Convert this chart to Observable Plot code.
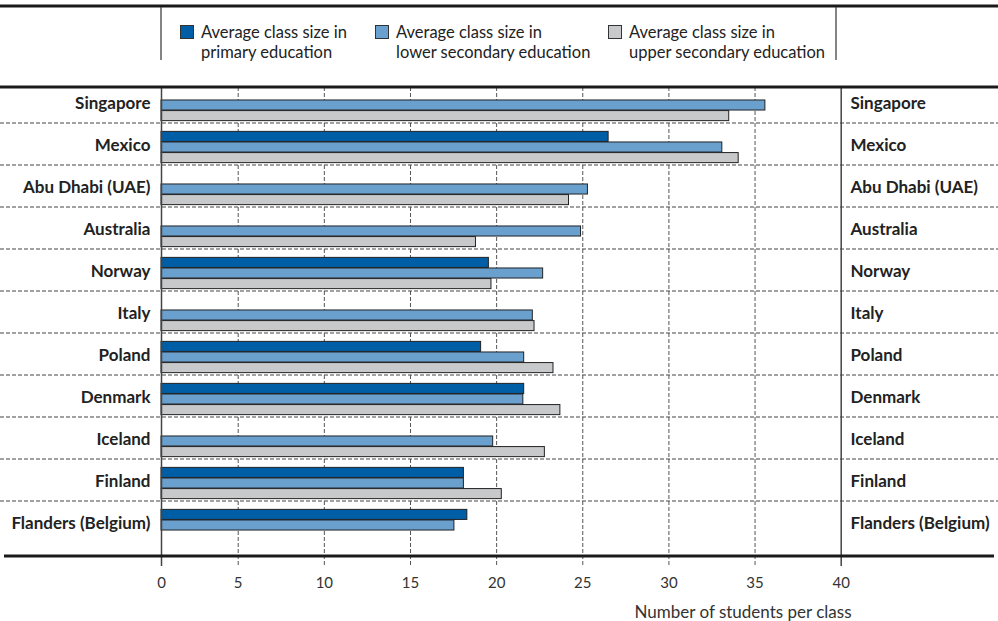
<!DOCTYPE html>
<html>
<head>
<meta charset="utf-8">
<script src="https://cdn.jsdelivr.net/npm/d3@7"></script>
<script src="https://cdn.jsdelivr.net/npm/@observablehq/plot@0.6"></script>
<style>
  body { margin: 0; background: #fff; }
  svg { display: block; }
</style>
</head>
<body>
<div id="chart"></div>
<script>
// ---- data ----
const countries = ["Singapore", "Mexico", "Abu Dhabi (UAE)", "Australia", "Norway", "Italy",
  "Poland", "Denmark", "Iceland", "Finland", "Flanders (Belgium)"];
const primary        = [null, 26.5, null, null, 19.55, null, 19.1, 21.6, null, 18.1, 18.3];
const lowerSecondary = [35.6, 33.1, 25.3, 24.9, 22.7, 22.1, 21.6, 21.55, 19.8, 18.1, 17.55];
const upperSecondary = [33.5, 34.05, 24.2, 18.8, 19.7, 22.2, 23.3, 23.7, 22.8, 20.3, null];
const seriesLabels = [
  ["Average class size in", "primary education"],
  ["Average class size in", "lower secondary education"],
  ["Average class size in", "upper secondary education"]
];
const seriesColors = ["#005ea6", "#69a0cd", "#c8c9cb"];
const xTicks = [0, 5, 10, 15, 20, 25, 30, 35, 40];
const gridTicks = [5, 10, 15, 20, 25, 30, 35];
const axisEnds = [0, 40];
const xTitle = "Number of students per class";

// ---- tables ----
const seriesValues = [primary, lowerSecondary, upperSecondary];
const tables = seriesValues.map(vals =>
  countries.map((c, i) => ({country: c, value: vals[i]})).filter(d => d.value != null));

const W = 998, H = 621;
const bandH = (H - 81 - 72) / countries.length;
const slot = 10.6;
const off = (bandH - 3 * slot) / 2;

const barMarks = tables.map((t, k) => Plot.barX(t, {
  x1: 0, x2: "value", y: "country",
  fill: seriesColors[k], stroke: "#222", strokeWidth: 1,
  insetTop: off + k * slot,
  insetBottom: bandH - (off + (k + 1) * slot)
}));

const plot = Plot.plot({
  width: W, height: H,
  marginTop: 81, marginBottom: 72, marginLeft: 161, marginRight: 157,
  style: {fontFamily: "Lato, 'Open Sans', sans-serif", background: "#fff"},
  x: {type: "linear", domain: [0, 5, 40], range: [161, 237.7, 840.7]},
  y: {domain: countries, padding: 0},
  marks: [
    Plot.ruleX(gridTicks, {stroke: "#555", strokeDasharray: "4,2", strokeWidth: 1, insetTop: 6, insetBottom: -17}),
    ...barMarks,
    Plot.ruleX(axisEnds, {stroke: "#444", strokeWidth: 1.5, insetTop: 6, insetBottom: -17}),
    Plot.axisX({ticks: xTicks, tickSize: 0, tickPadding: 28, fontSize: 15, fill: "#333", label: null}),
    Plot.axisY({anchor: "left", tickSize: 0, tickPadding: 11, fontSize: 17, fontWeight: "bold", fill: "#222", dy: -2, label: null}),
    Plot.axisY({anchor: "right", tickSize: 0, tickPadding: 9, fontSize: 17, fontWeight: "bold", fill: "#222", dy: -2, label: null})
  ]
});

// ---- decorations computed from the plot's scales ----
const ys = plot.scale("y");
const yStart = ys.range[0], yEnd = ys.range[1], step = ys.step;
const svg = d3.select(plot);
const deco = svg.insert("g", "g");
countries.forEach((c, i) => {
  if (i === 0) return;
  const y = yStart + i * step;
  deco.append("line").attr("x1", 0).attr("x2", W).attr("y1", y).attr("y2", y)
    .attr("stroke", "#444").attr("stroke-dasharray", "4,2").attr("stroke-width", 1);
});
const over = svg.append("g");
// thick rules
over.append("line").attr("x1", 0).attr("x2", W).attr("y1", yStart + 6).attr("y2", yStart + 6)
  .attr("stroke", "#1a1a1a").attr("stroke-width", 3);
over.append("line").attr("x1", 4).attr("x2", W - 4).attr("y1", yEnd + 7).attr("y2", yEnd + 7)
  .attr("stroke", "#1a1a1a").attr("stroke-width", 3);
over.append("line").attr("x1", 0).attr("x2", W).attr("y1", 6).attr("y2", 6)
  .attr("stroke", "#1a1a1a").attr("stroke-width", 3);
// legend box verticals
over.append("line").attr("x1", 161).attr("x2", 161).attr("y1", 7).attr("y2", 60)
  .attr("stroke", "#333").attr("stroke-width", 1.2);
over.append("line").attr("x1", 836).attr("x2", 836).attr("y1", 7).attr("y2", 60)
  .attr("stroke", "#333").attr("stroke-width", 1.2);
// legend
const legendX = [180, 375, 608];
seriesLabels.forEach((lines, k) => {
  const g = over.append("g").attr("transform", `translate(${legendX[k]},0)`);
  g.append("rect").attr("x", 0.5).attr("y", 25.5).attr("width", 13).attr("height", 13)
    .attr("fill", seriesColors[k]).attr("stroke", "#333").attr("stroke-width", 1);
  lines.forEach((t, j) => {
    g.append("text").attr("x", 21).attr("y", 38 + j * 20).text(t)
      .attr("text-anchor", "start")
      .attr("font-size", 16.5).attr("fill", "#222").attr("font-family", "Lato, sans-serif");
  });
});
// axis title
over.append("text").attr("x", 743).attr("y", 618).attr("text-anchor", "middle")
  .attr("font-size", 17).attr("fill", "#333").attr("font-family", "Lato, sans-serif").text(xTitle);

document.getElementById("chart").appendChild(plot);
</script>
</body>
</html>
